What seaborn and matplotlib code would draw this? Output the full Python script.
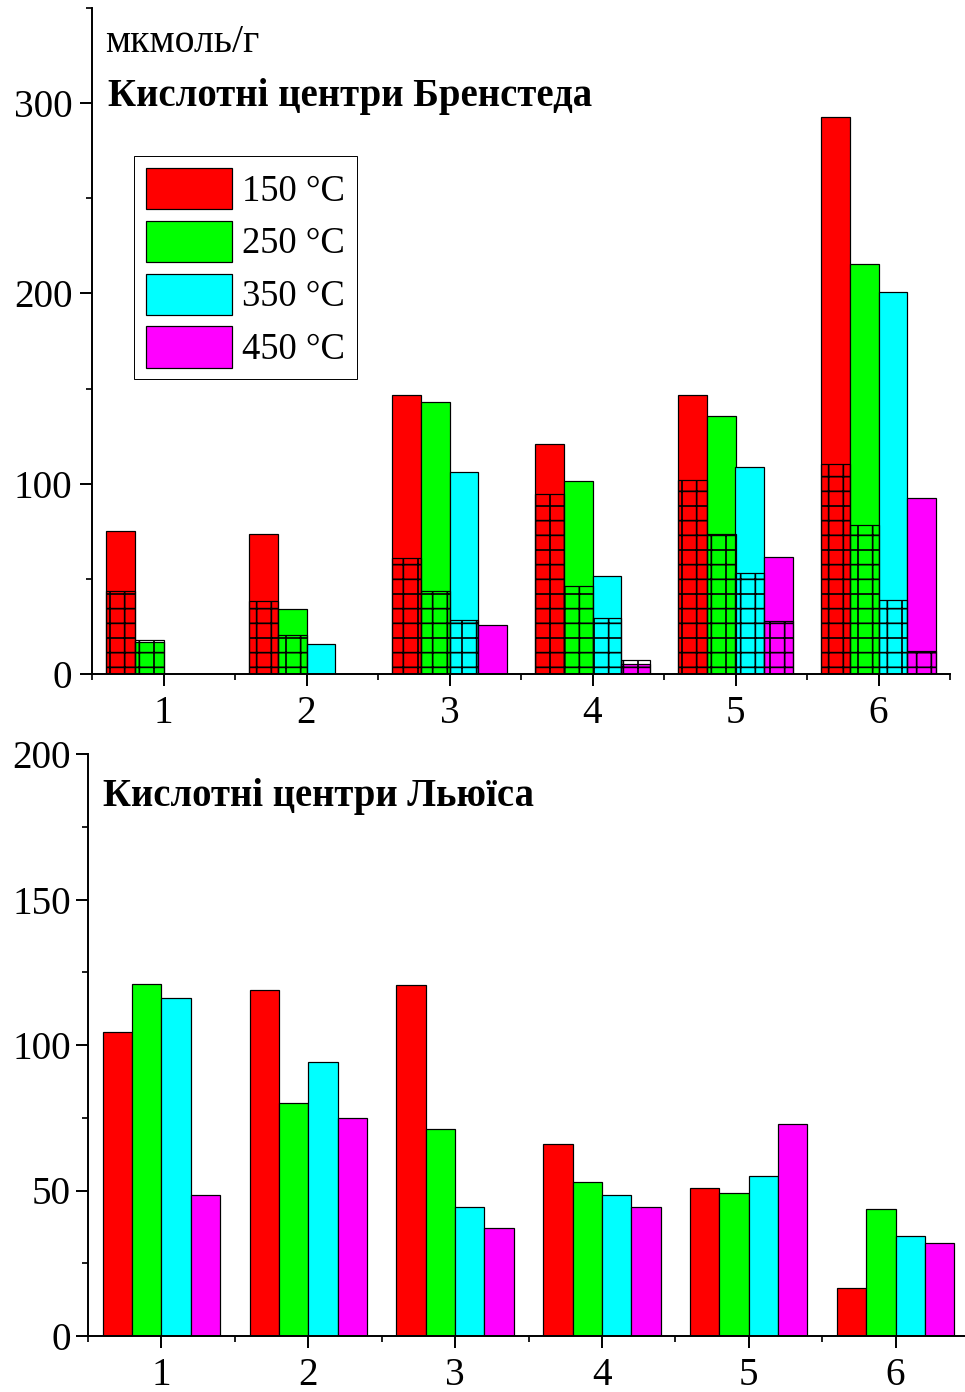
import numpy as np
import pandas as pd
import matplotlib
matplotlib.use("Agg")
import matplotlib.pyplot as plt
import seaborn as sns
from matplotlib.patches import Patch
from matplotlib.ticker import MultipleLocator, FixedLocator

# ---- data -------------------------------------------------------------
samples = ["1", "2", "3", "4", "5", "6"]
temps = ["150 °C", "250 °C", "350 °C", "450 °C"]
colors = ["#FF0000", "#00FF00", "#00FFFF", "#FF00FF"]

# Brønsted acid sites, total amount (µmol/g) per desorption temperature
bronsted_150 = [75, 73.5, 146.5, 121, 146.5, 292.5]
bronsted_250 = [17, 34, 143, 101.5, 135.5, 215.5]
bronsted_350 = [0, 16, 106, 51.5, 109, 200.5]
bronsted_450 = [0, 0, 25.5, 5, 61.5, 92.5]

# Brønsted acid sites, strong fraction (hatched part)
strong_150 = [43.5, 38.5, 61, 94.5, 102, 110.5]
strong_250 = [18, 20.5, 43.5, 46, 73.5, 78.5]
strong_350 = [0, 0, 28.5, 29.5, 53, 39]
strong_450 = [0, 0, 0, 7.2, 28, 12]

# Lewis acid sites (µmol/g)
lewis_150 = [104.5, 119, 120.5, 66, 51, 16.5]
lewis_250 = [121, 80, 71, 53, 49, 43.5]
lewis_350 = [116, 94, 44.5, 48.5, 55, 34.5]
lewis_450 = [48.5, 75, 37, 44.5, 73, 32]


def long_form(series):
    rows = []
    for temp, vals in zip(temps, series):
        for s, v in zip(samples, vals):
            rows.append({"sample": s, "temp": temp, "value": v})
    return pd.DataFrame(rows)


df_bronsted = long_form([bronsted_150, bronsted_250, bronsted_350, bronsted_450])
df_strong = long_form([strong_150, strong_250, strong_350, strong_450])
df_lewis = long_form([lewis_150, lewis_250, lewis_350, lewis_450])

# ---- style ------------------------------------------------------------
sns.set_theme(style="white")
plt.rcParams["font.family"] = ["Liberation Serif", "DejaVu Serif"]
plt.rcParams["text.color"] = "black"
plt.rcParams["hatch.color"] = "black"
plt.rcParams["hatch.linewidth"] = 1.4

DPI = 88
fig = plt.figure(figsize=(965 / DPI, 1392 / DPI), dpi=DPI)
fig.patch.set_facecolor("white")

W, H = 965.0, 1392.0
ax_top = fig.add_axes([92 / W, 1 - 674 / H, 858 / W, 666 / H])
ax_bot = fig.add_axes([88 / W, 1 - 1336 / H, 881 / W, 582 / H])

palette = dict(zip(temps, colors))
bar_kw = dict(x="sample", y="value", hue="temp", order=samples,
              hue_order=temps, palette=palette, errorbar=None,
              width=0.8, saturation=1, edgecolor="black", linewidth=1.0,
              legend=False)

# top panel: total amount, then the hatched strong fraction on top
sns.barplot(data=df_bronsted, ax=ax_top, **bar_kw)
n_before = len(ax_top.patches)
sns.barplot(data=df_strong, ax=ax_top, **bar_kw)
for p in ax_top.patches[n_before:]:
    p.set_facecolor("none")
    p.set_edgecolor("black")
    p.set_hatch("+")
    p.set_linewidth(1.0)

# bottom panel
sns.barplot(data=df_lewis, ax=ax_bot, **bar_kw)


def style_axis(ax, ymax, major, minor, ypad):
    ax.set_xlim(-0.5, 5.5)
    ax.set_ylim(0, ymax)
    ax.set_xlabel("")
    ax.set_ylabel("")
    for side in ("top", "right"):
        ax.spines[side].set_visible(False)
    for side in ("left", "bottom"):
        ax.spines[side].set_linewidth(1.6)
        ax.spines[side].set_color("black")
    ax.yaxis.set_major_locator(MultipleLocator(major))
    ax.yaxis.set_minor_locator(MultipleLocator(minor))
    ax.xaxis.set_minor_locator(FixedLocator(np.arange(-0.5, 5.6, 1.0)))
    ax.tick_params(axis="both", which="major", direction="out", length=10,
                   width=1.6, color="black", labelsize=32, labelcolor="black")
    ax.tick_params(axis="y", which="major", pad=ypad)
    ax.tick_params(axis="x", which="major", pad=7)
    ax.tick_params(axis="both", which="minor", direction="out", length=5,
                   width=1.4, color="black")
    ax.tick_params(left=True, bottom=True, which="both")
    ax.set_facecolor("white")


style_axis(ax_top, 350, 100, 50, ypad=6)
style_axis(ax_bot, 200, 50, 25, ypad=4)

# legend
handles = [Patch(facecolor=c, edgecolor="black", linewidth=1.0, label=t)
           for t, c in zip(temps, colors)]
leg = ax_top.legend(handles=handles, loc="upper left",
                    bbox_to_anchor=(42 / 858, (674 - 156) / 666),
                    borderaxespad=0, fontsize=30, frameon=True,
                    fancybox=False, framealpha=1, edgecolor="black",
                    handlelength=2.35, handleheight=1.35, handletextpad=0.28,
                    labelspacing=0.32, borderpad=0.32, labelcolor="black")
leg.get_frame().set_linewidth(0.8)

# unit and panel titles
fig.text(105 / W, 1 - 52 / H, "мкмоль/г", fontsize=32.5, va="baseline",
         ha="left", color="black")
fig.text(108 / W, 1 - 106 / H, "Кислотні центри Бренстеда", fontsize=31.7,
         fontweight="bold", va="baseline", ha="left", color="black")
fig.text(103 / W, 1 - 806 / H, "Кислотні центри Льюїса", fontsize=31.6,
         fontweight="bold", va="baseline", ha="left", color="black")

fig.savefig("out.png", dpi=DPI, facecolor="white")
